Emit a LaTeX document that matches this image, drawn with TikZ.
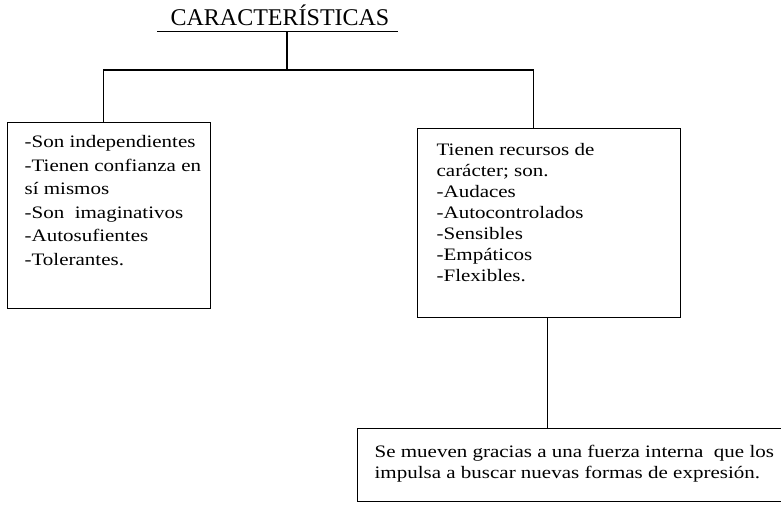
\documentclass[tikz,border=0pt]{standalone}
\usepackage{fontspec}
\setmainfont{Liberation Serif}
\newfontfamily\bodyfont[FakeStretch=1.2]{Liberation Serif}
\begin{document}
\begin{tikzpicture}[x=1pt,y=-1pt,
  line width=1.2pt,
  boxed/.style={draw, anchor=north west, inner sep=0pt},
  body/.style={anchor=north west, inner sep=0pt, align=left,
    font=\bodyfont\fontsize{17.5}{23.5}\selectfont},
  titlestyle/.style={anchor=base, inner sep=0pt, font=\fontsize{24}{28}\selectfont}]
\useasboundingbox (0,0) rectangle (781,508);
\clip (0,0) rectangle (781,508);
% title
\node[titlestyle] (title) at (280,26) {CARACTERÍSTICAS};
\coordinate (ulL) at (157,32);
\coordinate (ulR) at (398,32);
\draw[line width=1pt] (ulL) -- (ulR);
\coordinate (stem) at (287,32);
\coordinate (hub) at (287,70);
% boxes
\node[boxed, minimum width=203pt, minimum height=186pt] (lbox) at (7,122) {};
\node[body] (ltext) at (24,135) {-Son independientes\\-Tienen confianza en\\sí mismos\\-Son\ \ imaginativos\\-Autosufientes\\-Tolerantes.};
\node[boxed, minimum width=263pt, minimum height=189pt] (rbox) at (417,128) {};
\node[body, font=\bodyfont\fontsize{17.5}{21}\selectfont] (rtext) at (436,143) {Tienen recursos de\\carácter; son.\\-Audaces\\-Autocontrolados\\-Sensibles\\-Empáticos\\-Flexibles.};
\node[boxed, minimum width=440pt, minimum height=73pt] (bbox) at (357,428) {};
\node[body, font=\bodyfont\fontsize{17.5}{20.5}\selectfont] (btext) at (374,445) {Se mueven gracias a una fuerza interna\ \ que los\\impulsa a buscar nuevas formas de expresión.};
% connectors
\draw (stem) -- (hub);
\draw ([xshift=-6pt]lbox.north) |- (hub) -| ([xshift=-16pt]rbox.north);
\draw ([xshift=-2pt]rbox.south) -- ([xshift=-2pt]rbox.south |- bbox.north);
\end{tikzpicture}
\end{document}
